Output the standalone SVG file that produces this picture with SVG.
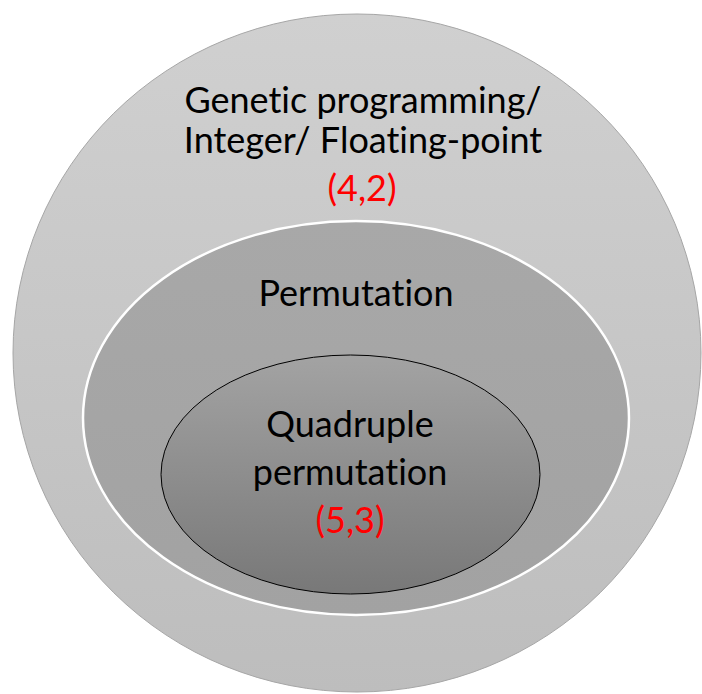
<svg xmlns="http://www.w3.org/2000/svg" width="702" height="694" viewBox="0 0 702 694">
  <style>
    .lbl { font-family: Lato, "Open Sans", "Liberation Sans", sans-serif; font-size: 36px; fill: #000; text-anchor: middle; font-variant-ligatures: none; font-feature-settings: "liga" 0, "clig" 0; }
    .num { fill: #ff0000; }
  </style>
  <defs>
    <linearGradient id="gOuter" x1="0" y1="0" x2="0" y2="1">
      <stop offset="0" stop-color="#d0d0d0"/>
      <stop offset="1" stop-color="#bdbdbd"/>
    </linearGradient>
    <linearGradient id="gMid" x1="0" y1="0" x2="0" y2="1">
      <stop offset="0" stop-color="#a8a8a8"/>
      <stop offset="1" stop-color="#a2a2a2"/>
    </linearGradient>
    <linearGradient id="gInner" x1="0" y1="0" x2="0" y2="1">
      <stop offset="0" stop-color="#a3a3a3"/>
      <stop offset="1" stop-color="#787878"/>
    </linearGradient>
  </defs>
  <rect width="702" height="694" fill="#ffffff"/>

  <g id="outer">
    <ellipse cx="357" cy="353" rx="344" ry="339" fill="url(#gOuter)" stroke="#a6a6a6" stroke-width="1"/>
    <text class="lbl" x="363" y="113">Genetic programming/</text>
    <text class="lbl" x="363" y="153">Integer/ Floating-point</text>
    <text class="lbl num" x="362" y="201">(4,2)</text>
  </g>

  <g id="permutation">
    <ellipse cx="356" cy="418" rx="273" ry="197" fill="url(#gMid)" stroke="#ffffff" stroke-width="2.5"/>
    <text class="lbl" x="356" y="306">Permutation</text>
  </g>

  <g id="quadruple">
    <ellipse cx="350.5" cy="474.5" rx="189.5" ry="119.5" fill="url(#gInner)" stroke="#000000" stroke-width="1"/>
    <text class="lbl" x="350" y="437">Quadruple</text>
    <text class="lbl" x="350" y="485">permutation</text>
    <text class="lbl num" x="350" y="533">(5,3)</text>
  </g>

  <g id="connectors"/>
</svg>
